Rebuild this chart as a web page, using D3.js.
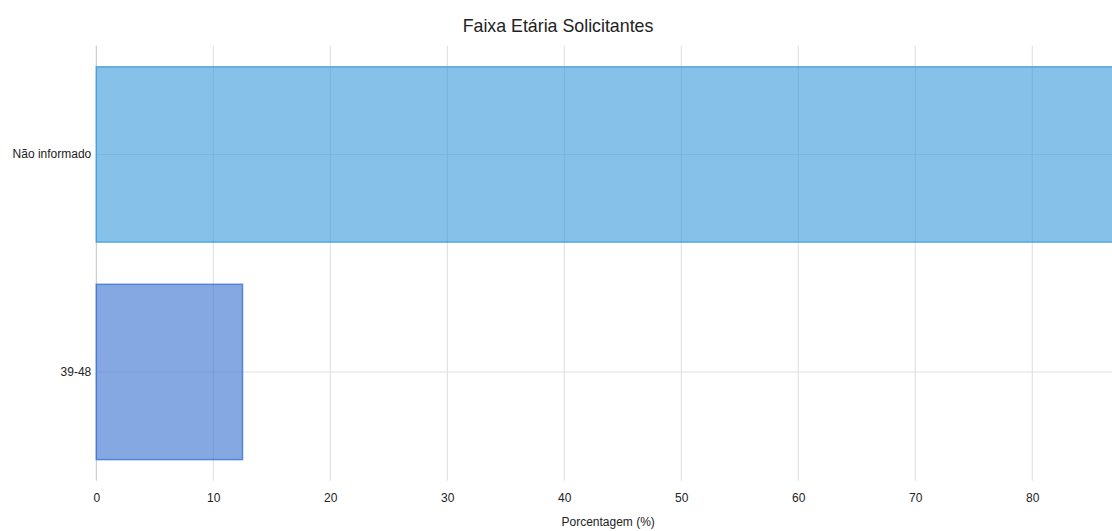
<!DOCTYPE html>
<html><head><meta charset="utf-8">
<script src="https://cdn.jsdelivr.net/npm/d3@7"></script>
<style>body{margin:0;background:#fff;overflow:hidden}svg{display:block}</style>
</head><body>
<script>
const categories = ["Não informado", "39-48"];
const values = [87.5, 12.5];
const fills = ["rgba(52,152,219,0.6)", "rgba(52,110,208,0.6)"];
const strokes = ["rgba(52,152,219,0.75)", "rgba(52,110,208,0.75)"];
const xTicks = [0, 10, 20, 30, 40, 50, 60, 70, 80];
const title = "Faixa Etária Solicitantes";
const xTitle = "Porcentagem (%)";

(function () {
const W = 1120, H = 531;
const mLeft = 96.3, mRight = 1120, mTop = 45.7, mBottom = 480.7;
const font = "'Liberation Sans', Arial, sans-serif";

const svg = d3.select("body").append("svg").attr("width", W).attr("height", H);
const x = d3.scaleLinear().domain([0, 87.5]).range([mLeft, mRight]);
const y = d3.scaleBand().domain(categories).range([mTop, mBottom]).paddingInner(0.194).paddingOuter(0.097);

// vertical grid
svg.append("g").selectAll("line").data(xTicks).join("line")
  .attr("x1", d => x(d)).attr("x2", d => x(d)).attr("y1", mTop).attr("y2", mBottom)
  .attr("stroke", d => d === 0 ? "#c2c2c2" : "#dcdcdc").attr("stroke-width", 1);
// horizontal grid at category centers
svg.append("g").selectAll("line").data(categories).join("line")
  .attr("x1", mLeft).attr("x2", mRight)
  .attr("y1", d => y(d) + y.bandwidth() / 2).attr("y2", d => y(d) + y.bandwidth() / 2)
  .attr("stroke", "#e0e0e0").attr("stroke-width", 1);

// bars
svg.append("g").selectAll("rect").data(categories).join("rect")
  .attr("x", x(0)).attr("y", d => y(d))
  .attr("width", (d, i) => x(values[i]) - x(0)).attr("height", y.bandwidth())
  .attr("fill", (d, i) => fills[i]).attr("stroke", (d, i) => strokes[i]).attr("stroke-width", 1.5);

// x axis labels
const xa = svg.append("g").attr("transform", `translate(0,${mBottom})`)
  .call(d3.axisBottom(x).tickValues(xTicks).tickSize(0).tickPadding(13).tickFormat(d3.format("d")));
xa.select(".domain").remove();
xa.selectAll("text").attr("font-family", font).attr("font-size", 12).attr("fill", "#222");

// y axis labels
const ya = svg.append("g").attr("transform", `translate(${mLeft},0)`)
  .call(d3.axisLeft(y).tickSize(0).tickPadding(5));
ya.select(".domain").remove();
ya.selectAll("text").attr("font-family", font).attr("font-size", 12).attr("fill", "#222");

svg.append("text").attr("x", 558).attr("y", 32).attr("text-anchor", "middle")
  .attr("font-family", font).attr("font-size", 17.8).attr("fill", "#222").text(title);
svg.append("text").attr("x", (mLeft + mRight) / 2).attr("y", 526).attr("text-anchor", "middle")
  .attr("font-family", font).attr("font-size", 12).attr("fill", "#222").text(xTitle);
})();
</script>
</body></html>
